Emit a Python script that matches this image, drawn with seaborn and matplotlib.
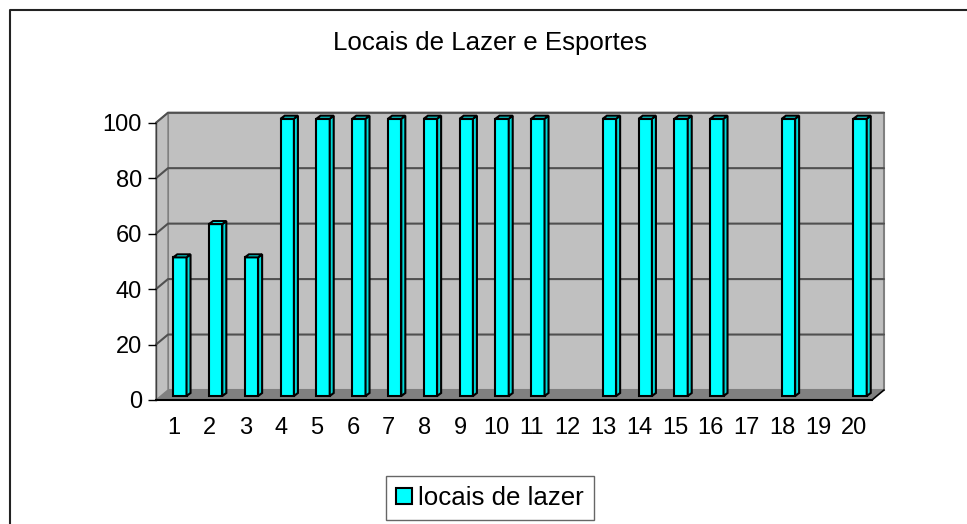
import matplotlib
matplotlib.use("Agg")
import matplotlib.pyplot as plt
import seaborn as sns
import pandas as pd
from matplotlib.patches import Polygon, Patch
from matplotlib.lines import Line2D
from matplotlib.transforms import IdentityTransform, offset_copy

# data
categories = [str(i) for i in range(1, 21)]
values = [50, 62, 50, 100, 100, 100, 100, 100, 100, 100,
          100, 0, 100, 100, 100, 100, 0, 100, 0, 100]
y_ticks = [0, 20, 40, 60, 80, 100]
series_name = "locais de lazer"
title = "Locais de Lazer e Esportes"

sns.set_style("white")
plt.rcParams['font.family'] = ['Liberation Sans', 'DejaVu Sans']
plt.rcParams['text.color'] = 'black'
plt.rcParams['xtick.color'] = 'black'
plt.rcParams['ytick.color'] = 'black'
plt.rcParams['xtick.labelcolor'] = 'black'
plt.rcParams['ytick.labelcolor'] = 'black'

W, H = 967, 524
fig = plt.figure(figsize=(W / 100, H / 100), dpi=100)
fig.patch.set_facecolor("white")

# front face of the 3d plot box, in pixels
left, right, bottom, top = 156, 872, 400, 122.7
ax = fig.add_axes([left / W, 1 - bottom / H, (right - left) / W, (bottom - top) / H])
ax.set_facecolor("none")

DX, DY = 12, 10      # depth of the box
BDX, BDY = 6, 4      # bars sit halfway in
CDX, CDY = 4, 3      # depth of each column

df = pd.DataFrame({"cat": categories, "val": values})
sns.barplot(data=df, x="cat", y="val", order=categories, color="#00FFFF",
            saturation=1, width=0.37, edgecolor="black", linewidth=1.5, ax=ax, zorder=3)

x0, x1 = -0.5, len(categories) - 0.5
ax.set_xlim(x0, x1)
ax.set_ylim(0, 100)
ax.set_autoscale_on(False)


def px(x, v, d):
    X, Y = ax.transData.transform((x, v))
    return (X + d * DX, Y + d * DY)


def poly(pts, **kw):
    p = Polygon(pts, closed=True, transform=IdentityTransform(), clip_on=False, **kw)
    ax.add_patch(p)


# walls and floor
poly([px(x0, 0, 1), px(x1, 0, 1), px(x1, 100, 1), px(x0, 100, 1)],
     facecolor="#C0C0C0", edgecolor="#808080", lw=1.5, zorder=0.2)
poly([px(x0, 0, 0), px(x0, 0, 1), px(x0, 100, 1), px(x0, 100, 0)],
     facecolor="#C0C0C0", edgecolor="#808080", lw=1.0, zorder=0.2)
poly([px(x0, 0, 0), px(x1, 0, 0), px(x1, 0, 1), px(x0, 0, 1)],
     facecolor="#808080", edgecolor="none", zorder=0.3)
p0, p1 = px(x1, 0, 0), px(x1, 0, 1)
ax.add_line(Line2D([p0[0], p1[0]], [p0[1], p1[1]], color="black", lw=1.2,
                   transform=IdentityTransform(), clip_on=False, zorder=0.4))

# gridlines on back and side wall
for v in y_ticks[1:]:
    a, b, c = px(x0, v, 0), px(x0, v, 1), px(x1, v, 1)
    ax.add_line(Line2D([a[0], b[0], c[0]], [a[1], b[1], c[1]], color="#505050", lw=1.5,
                       transform=IdentityTransform(), clip_on=False, zorder=0.4))

# shift bars to mid depth and give them a side and a top
bar_tr = offset_copy(ax.transData, fig=fig, x=BDX, y=BDY, units="dots")
for p in list(ax.patches):
    if isinstance(p, Polygon):
        continue
    if p.get_height() <= 0:
        p.set_visible(False)
        continue
    p.set_transform(bar_tr)
    p.set_clip_on(False)
    bx, bw, bh = p.get_x(), p.get_width(), p.get_height()
    (ax_, ay_), (bx_, by_) = bar_tr.transform([(bx, 0), (bx + bw, bh)])
    side = [(bx_, ay_), (bx_ + CDX, ay_ + CDY), (bx_ + CDX, by_ + CDY), (bx_, by_)]
    cap = [(ax_, by_), (bx_, by_), (bx_ + CDX, by_ + CDY), (ax_ + CDX, by_ + CDY)]
    poly(side, facecolor="#00D8D8", edgecolor="black", lw=1.5, zorder=3)
    poly(cap, facecolor="#00FFFF", edgecolor="black", lw=1.5, zorder=3)

# axes
for s in ["top", "right"]:
    ax.spines[s].set_visible(False)
ax.spines["left"].set_color("#404040")
ax.spines["left"].set_linewidth(1.0)
ax.spines["bottom"].set_color("black")
ax.spines["bottom"].set_linewidth(1.5)
for s in ax.spines.values():
    s.set_zorder(0.5)

ax.set_yticks(y_ticks)
ax.set_yticklabels([str(v) for v in y_ticks], fontsize=17, color="black")
ax.set_xticks(range(len(categories)))
ax.set_xticklabels(categories, fontsize=17, color="black")
ax.set_xticks([i - 0.5 for i in range(len(categories) + 1)], minor=True)
ax.tick_params(axis="x", which="major", length=0, pad=12)
ax.tick_params(axis="x", which="minor", length=6, width=1, color="black", direction="out")
ax.tick_params(axis="y", length=6, width=1, color="black", pad=4, direction="out", left=True)
ax.set_xlabel("")
ax.set_ylabel("")

# title, legend, chart frame
fig.text(490 / W, 1 - 50 / H, title, ha="center", va="baseline", fontsize=18.6, color="black")
handle = Patch(facecolor="#00FFFF", edgecolor="black", lw=1.5)
leg = fig.legend(handles=[handle], labels=[series_name], loc="center",
                 bbox_to_anchor=(490 / W, 1 - 498 / H), fontsize=18.6,
                 frameon=True, fancybox=False, handlelength=0.6, handleheight=0.6,
                 handletextpad=0.25, borderpad=0.4)
leg.get_frame().set_edgecolor("#404040")
leg.get_frame().set_linewidth(1.0)
for t in leg.get_texts():
    t.set_color("black")

fig.add_artist(Line2D([10 / W, 10 / W, 1], [0, 1 - 10 / H, 1 - 10 / H],
                      transform=fig.transFigure, color="#222222", lw=1.5))

fig.savefig("out.png", dpi=100)
